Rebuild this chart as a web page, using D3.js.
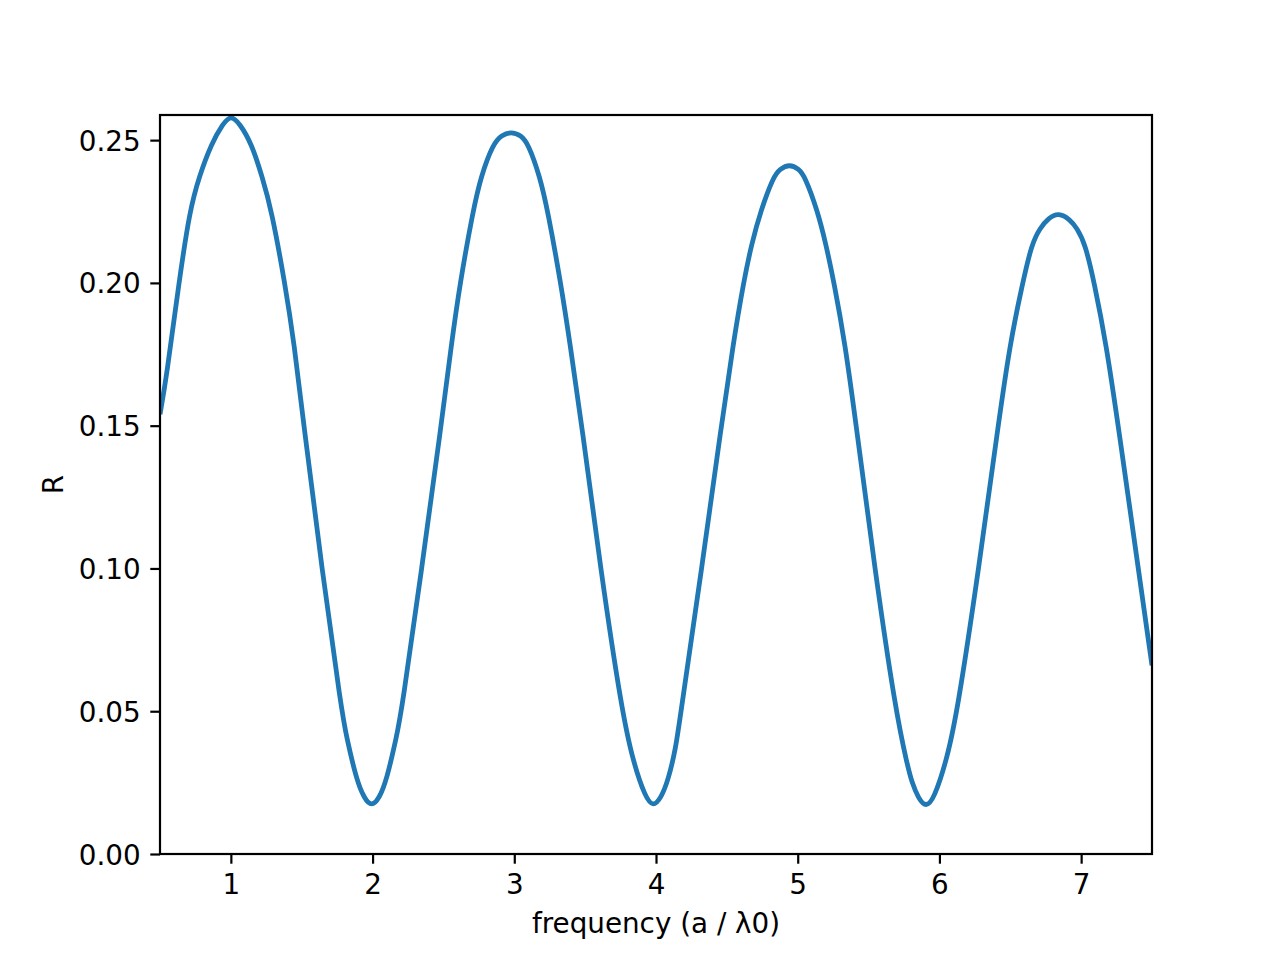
<!DOCTYPE html>
<html>
<head>
<meta charset="utf-8">
<script src="https://cdn.jsdelivr.net/npm/d3@7"></script>
<style>
  html, body { margin: 0; padding: 0; background: #ffffff; }
  svg { display: block; }
  text { font-family: "DejaVu Sans", sans-serif; fill: #000; }
</style>
</head>
<body>
<svg id="chart" width="1280" height="960"></svg>
<script>
// Values
const frequency = [
  0.500, 0.546, 0.633, 0.710, 0.776, 0.863, 0.945, 1.000, 1.063, 1.146,
  1.221, 1.287, 1.381, 1.447, 1.515, 1.642, 1.782, 1.816, 1.887, 1.940,
  1.993, 2.048, 2.099, 2.169, 2.205, 2.347, 2.484, 2.557, 2.617, 2.710,
  2.764, 2.851, 2.910, 2.978, 3.047, 3.098, 3.181, 3.235, 3.328, 3.393,
  3.477, 3.608, 3.759, 3.839, 3.925, 3.980, 4.035, 4.085, 4.140, 4.176,
  4.323, 4.461, 4.545, 4.617, 4.675, 4.741, 4.828, 4.875, 4.941, 5.009,
  5.051, 5.138, 5.198, 5.257, 5.334, 5.413, 5.543, 5.691, 5.774, 5.805,
  5.852, 5.906, 5.962, 6.052, 6.127, 6.278, 6.414, 6.498, 6.587, 6.652,
  6.710, 6.769, 6.840, 6.922, 6.970, 7.028, 7.093, 7.176, 7.262, 7.403,
  7.500
];
const reflectance = [
  0.1540, 0.1670, 0.2000, 0.2255, 0.2372, 0.2488, 0.2558, 0.2588, 0.2558, 0.2488,
  0.2372, 0.2255, 0.2000, 0.1788, 0.1500, 0.1000, 0.0500, 0.0410, 0.0259, 0.0196,
  0.0165, 0.0196, 0.0259, 0.0410, 0.0500, 0.1000, 0.1500, 0.1788, 0.2000, 0.2255,
  0.2372, 0.2488, 0.2517, 0.2530, 0.2517, 0.2488, 0.2372, 0.2255, 0.2000, 0.1788,
  0.1500, 0.1000, 0.0500, 0.0322, 0.0198, 0.0165, 0.0196, 0.0257, 0.0370, 0.0500,
  0.1000, 0.1500, 0.1788, 0.2000, 0.2138, 0.2255, 0.2372, 0.2399, 0.2416, 0.2399,
  0.2372, 0.2255, 0.2138, 0.2000, 0.1788, 0.1500, 0.1000, 0.0500, 0.0310, 0.0252,
  0.0194, 0.0163, 0.0194, 0.0330, 0.0500, 0.1000, 0.1500, 0.1788, 0.2000, 0.2138,
  0.2192, 0.2227, 0.2246, 0.2222, 0.2192, 0.2138, 0.2000, 0.1788, 0.1500, 0.1000,
  0.0660
];
const xTicks = [1, 2, 3, 4, 5, 6, 7];
const yTicks = [0.00, 0.05, 0.10, 0.15, 0.20, 0.25];
const xDomain = [0.5, 7.5];
const yDomain = [0, 0.2588];
const xLabel = "frequency (a / λ0)";
const yLabel = "R";

const svg = d3.select("#chart");
const margin = { left: 160, top: 115, right: 1280 - 1152, bottom: 960 - 854 };
const W = 1280 - margin.left - margin.right;
const H = 960 - margin.top - margin.bottom;

const x = d3.scaleLinear().domain(xDomain).range([margin.left, margin.left + W]);
const y = d3.scaleLinear().domain(yDomain).range([margin.top + H, margin.top]);

svg.append("rect").attr("width", 1280).attr("height", 960).attr("fill", "#ffffff");

svg.append("defs").append("clipPath").attr("id", "clip")
  .append("rect").attr("x", margin.left).attr("y", margin.top).attr("width", W).attr("height", H);

const data = frequency.map((f, i) => ({ f, r: reflectance[i] }));
const line = d3.line().x(d => x(d.f)).y(d => y(d.r)).curve(d3.curveBasis);

svg.append("path")
  .datum(data)
  .attr("clip-path", "url(#clip)")
  .attr("fill", "none")
  .attr("stroke", "#1f77b4")
  .attr("stroke-width", 4.8)
  .attr("stroke-linejoin", "round")
  .attr("stroke-linecap", "butt")
  .attr("d", line);

const tickLen = 9.7, tickPad = 9.7, fs = 27.8;

const xAxis = d3.axisBottom(x).tickValues(xTicks).tickFormat(d3.format("d"))
  .tickSize(tickLen).tickPadding(tickPad);
const gx = svg.append("g").attr("transform", `translate(0,${margin.top + H})`).call(xAxis);

const yAxis = d3.axisLeft(y).tickValues(yTicks).tickFormat(d3.format(".2f"))
  .tickSize(tickLen).tickPadding(tickPad);
const gy = svg.append("g").attr("transform", `translate(${margin.left},0)`).call(yAxis);

[gx, gy].forEach(g => {
  g.select(".domain").remove();
  g.selectAll(".tick line").attr("stroke", "#000").attr("stroke-width", 2.2);
  g.selectAll(".tick text")
    .attr("font-family", "DejaVu Sans, sans-serif")
    .attr("font-size", fs)
    .attr("fill", "#000");
});
gx.selectAll(".tick text").attr("dy", null).attr("y", tickLen + tickPad).attr("dominant-baseline", "hanging");
gy.selectAll(".tick text").attr("dy", "0.36em");

// frame (spines)
svg.append("rect")
  .attr("x", margin.left).attr("y", margin.top)
  .attr("width", W).attr("height", H)
  .attr("fill", "none").attr("stroke", "#000").attr("stroke-width", 2.2);

svg.append("text")
  .attr("x", margin.left + W / 2).attr("y", 933)
  .attr("text-anchor", "middle")
  .attr("font-size", fs)
  .text(xLabel);

svg.append("text")
  .attr("transform", `translate(63,${margin.top + H / 2}) rotate(-90)`)
  .attr("text-anchor", "middle")
  .attr("font-size", fs)
  .text(yLabel);
</script>
</body>
</html>
